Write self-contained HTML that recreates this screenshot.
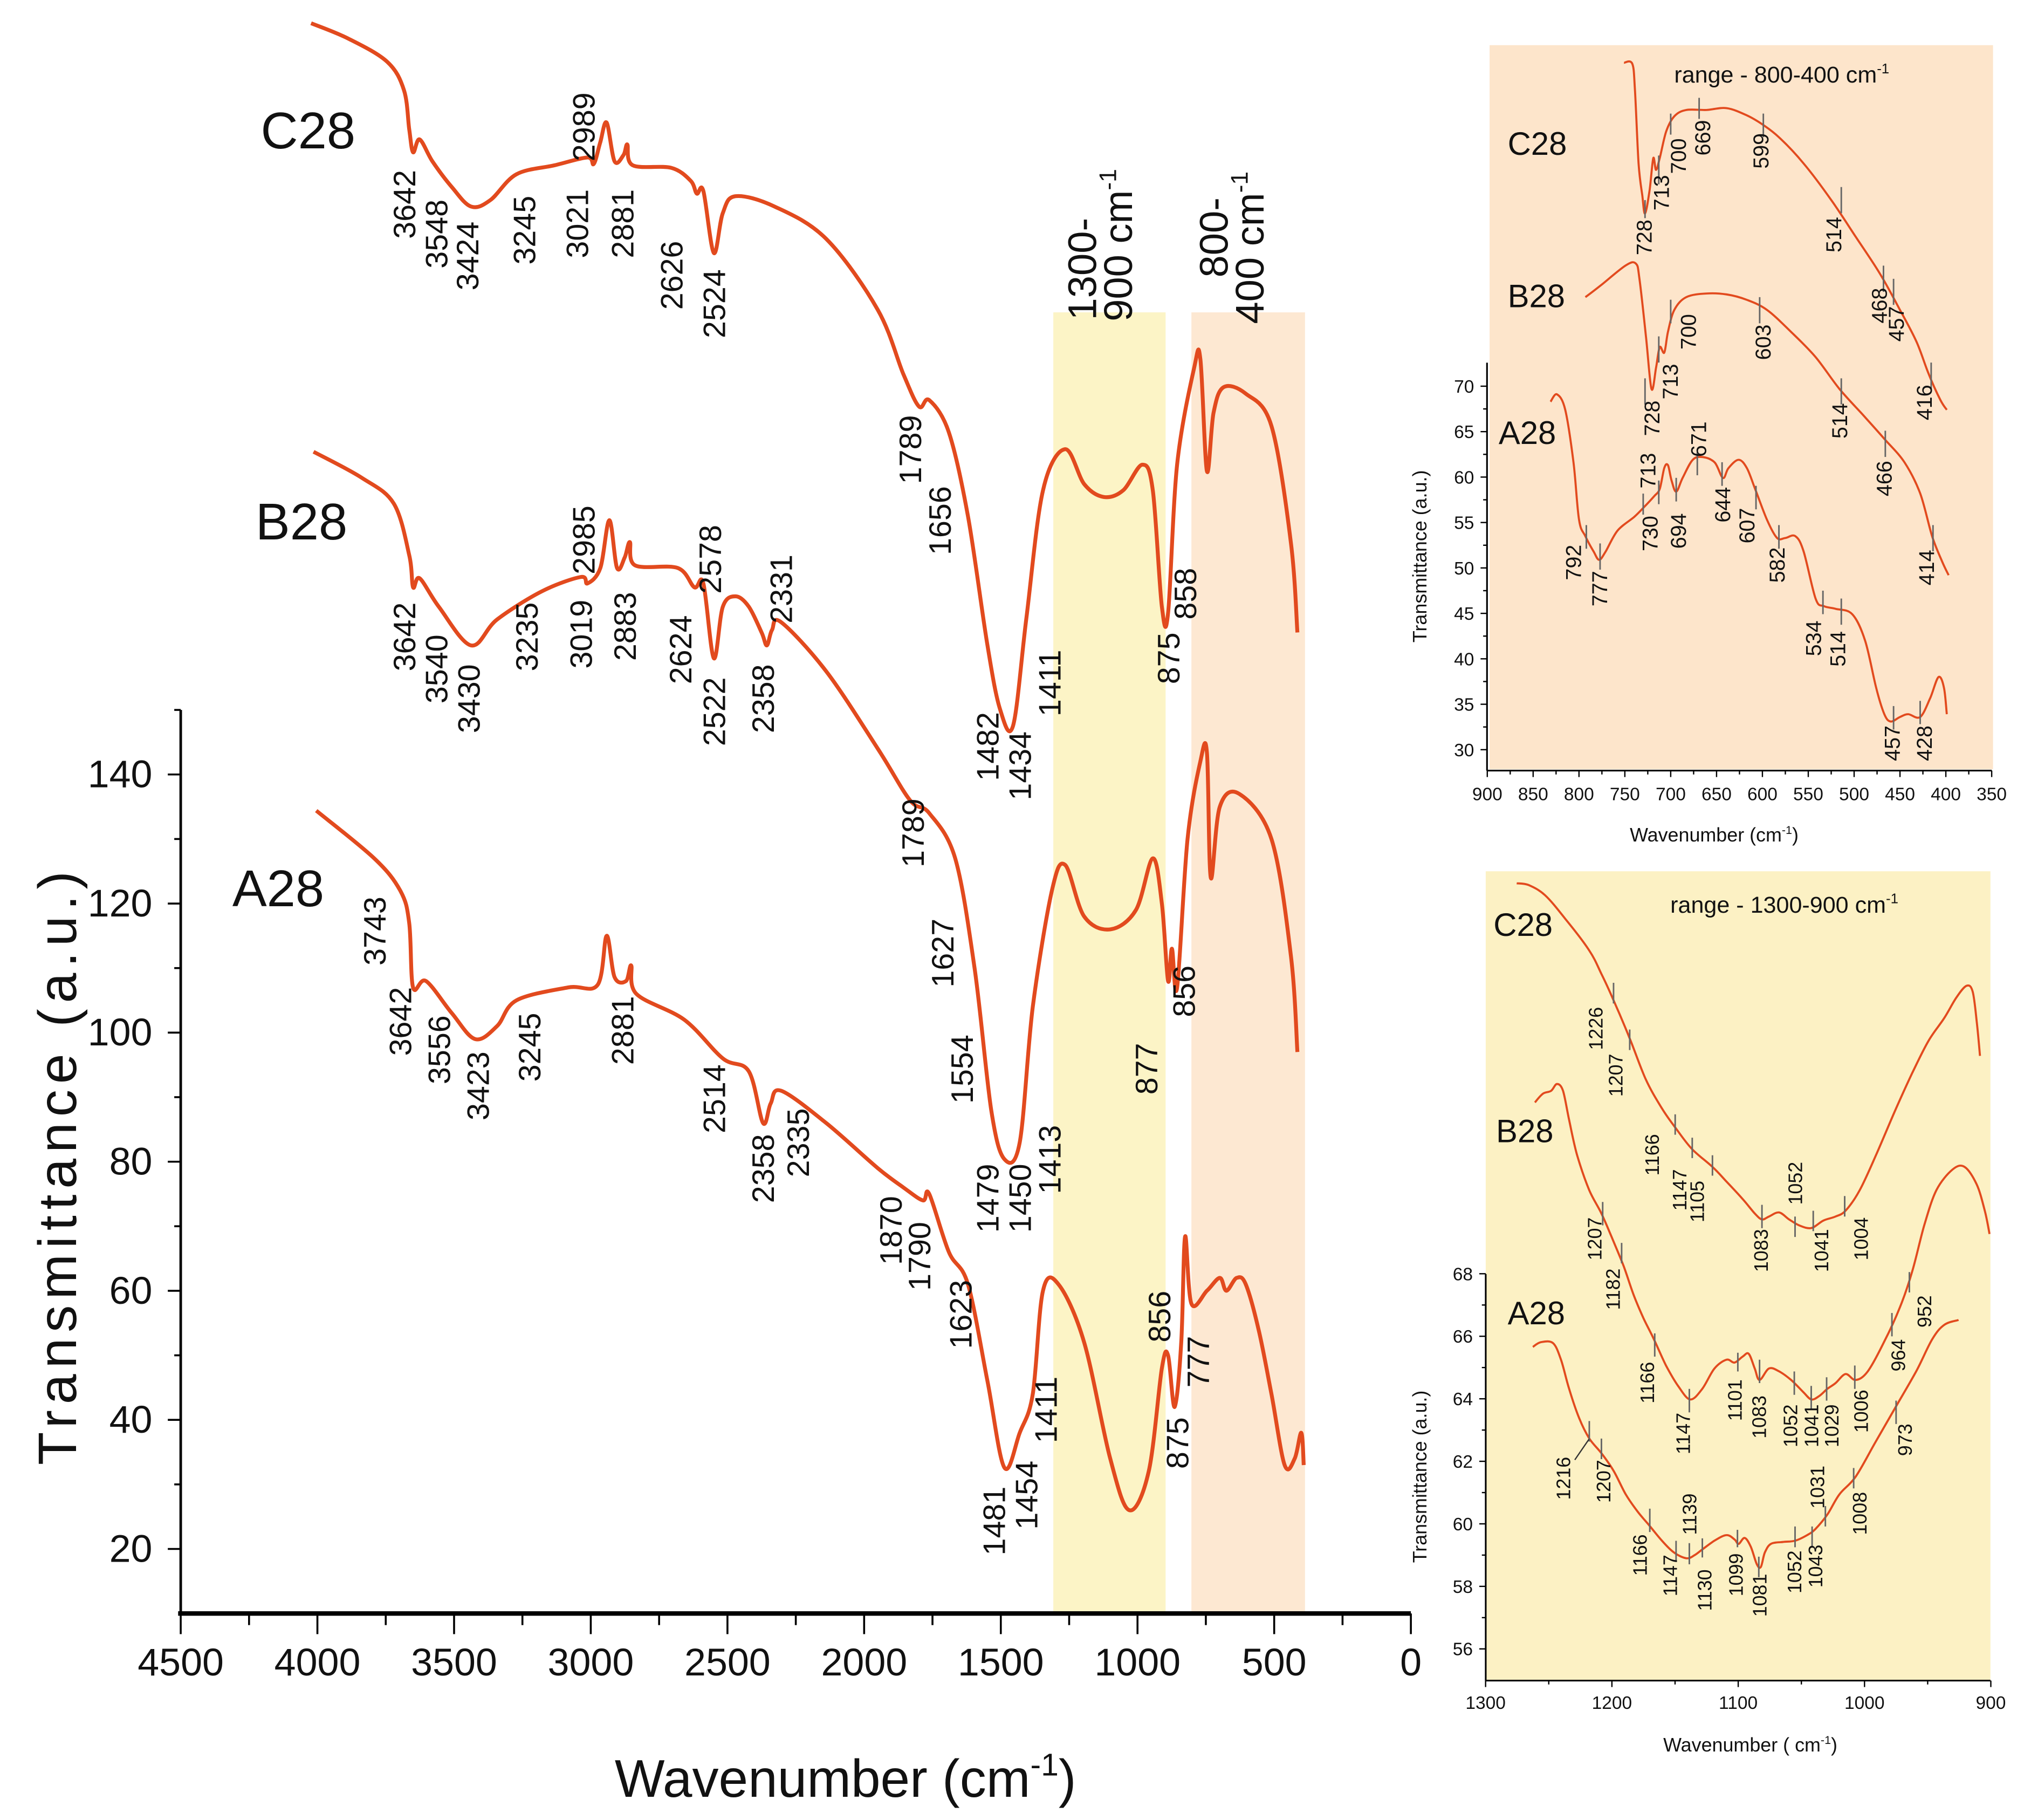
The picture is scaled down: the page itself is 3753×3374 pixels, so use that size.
<!DOCTYPE html>
<html><head><meta charset="utf-8"><style>
html,body{margin:0;padding:0;background:#fff;}
svg{display:block;font-family:"Liberation Sans",Arial,sans-serif;}
</style></head><body>
<svg id="chart" xmlns="http://www.w3.org/2000/svg" width="3753" height="3374" viewBox="0 0 1568 1410" preserveAspectRatio="none">
<rect x="0" y="0" width="1568" height="1410" fill="#fff"/>
<rect x="816" y="242" width="87" height="1008" fill="#fcf4c6"/>
<rect x="923" y="242" width="88" height="1008" fill="#fde8d2"/>
<rect x="1154" y="35" width="390" height="561" fill="#fde5cb"/>
<rect x="1151" y="675" width="391" height="627" fill="#fcf1c4"/>
</svg>
<script>
// ---------- main chart data ----------
const mainXTicks=[4500,4000,3500,3000,2500,2000,1500,1000,500,0];
const mainYTicks=[20,40,60,80,100,120,140];
const c28W=[4023,3886,3744,3683,3664,3650,3626,3579,3508,3438,3367,3272,3131,3012,2989,2965,2942,2913,2880,2866,2847,2706,2635,2612,2588,2550,2517,2470,2328,2139,1950,1856,1799,1762,1690,1620,1549,1502,1455,1407,1346,1265,1195,1124,1053,982,944,911,888,855,793,770,746,722,685,604,510,439,415];
const c28V=[256.4,254,250.4,246,240,236.4,238.4,235,231,228,229,233,234.4,235.6,234.6,238,241,235,236,237.6,234.4,234,232,230,230.4,220.8,227,229.6,228,223,212,202,197,198,193,180,160,150,147.6,164,184,190.4,185,183,184,188,184,166,165,188,203,204.4,187,196,200,199,194,176,162];
const b28W=[4014,3839,3721,3664,3650,3626,3556,3438,3343,3178,3036,3012,2965,2932,2904,2876,2857,2838,2682,2621,2588,2550,2517,2470,2422,2375,2356,2337,2304,2139,1950,1832,1762,1667,1596,1535,1487,1431,1383,1313,1265,1195,1100,1006,944,911,888,874,855,817,770,746,732,699,628,510,439,415];
const b28V=[190,186,182,174,169,170.4,166,160,164,168.4,170.6,169.6,172,179.4,172,173.6,176,172.4,172,169,169.6,158,166,167.6,166,162,160,162.4,163.6,156,144,136,134,127,110,88,80.4,83,104,122,126,118,116,119,127,120,108,113,107,130,142,143.4,124,135,137,130,112,97];
const a28W=[4004,3792,3697,3664,3650,3603,3508,3423,3343,3272,3083,2975,2942,2913,2871,2852,2833,2658,2517,2422,2370,2342,2304,2139,1950,1856,1785,1762,1690,1620,1549,1487,1431,1383,1346,1289,1195,1100,1030,959,911,888,864,840,826,803,746,699,675,637,604,557,510,462,425,401,392];
const a28V=[134.4,127,122,117,107,108,103,99,101,105,107,107.4,115,108.6,108,110.4,106,102,96,94,86,89,91,86,79,76,74,75,66,61,46,32.6,38,44,60,61,52,34,26,32,48,50,42,52,68.4,58,60,62,60,62,61,54,44,33,34,38,33];
const mainLabels=[["3642",313,185],["3548",338,208],["3424",362,225],["3245",406,205],["3021",447,200],["2989",452,125],["2881",482,200],["2626",520,240],["2524",553,262],["1789",705,375],["1656",728,430],["1482",765,605],["1434",790,620],["1411",813,555],["875",905,530],["858",918,480],
["3642",313,520],["3540",338,545],["3430",363,568],["3235",408,520],["3019",450,518],["2985",452,445],["2883",484,512],["2624",527,530],["2578",550,460],["2522",553,578],["2358",591,568],["2331",605,483],["1789",707,672],["1627",730,765],["1554",745,855],["1479",765,955],["1450",790,955],["1413",813,925],["877",888,848],["856",917,788],
["3743",290,748],["3642",310,818],["3556",340,840],["3423",370,868],["3245",410,838],["2881",482,825],["2514",553,878],["2358",591,932],["2335",618,912],["1870",690,980],["1790",712,1000],["1623",744,1045],["1481",770,1205],["1454",795,1185],["1411",810,1118],["856",898,1040],["875",912,1138],["777",928,1075]];

// ---------- inset 800-400 data ----------
const pXTicks=[900,850,800,750,700,650,600,550,500,450,400,350];
const pYTicks=[30,35,40,45,50,55,60,65,70];
const pC28W=[751,742,739,735,731,728,723,719,716,712,705,696,683,661,639,617,600,582,555,525,498,472,450,432,419,406,399];
const pC28V=[105.6,105.5,102.6,94.5,91,89,91.6,95.1,93.8,95.1,98,99.7,100.4,100.4,100.6,99.8,98.8,97.4,94.5,90.5,86.4,82.4,78.4,74.9,71.4,68.5,67.4];
const pB28W=[793,775,749,738,734,727,721,716,712,707,703,696,683,661,639,617,595,569,542,516,490,467,445,428,415,404,397];
const pB28V=[79.8,81.2,83.3,83.5,81.8,75.5,69.7,72,74.3,73.7,76,78.4,79.8,80.2,80.1,79.5,78.4,76,73.2,69.7,66.8,64.2,61.6,58.2,53.5,50.7,49.2];
const pA28W=[831,824,815,806,800,793,784,778,771,758,740,729,718,712,707,703,699,694,687,676,665,652,643,637,626,617,608,595,584,575,564,555,542,533,520,502,488,476,467,460,450,441,428,417,408,402,399];
const pA28V=[68.3,69.1,67.4,61.6,55.3,53.5,51.8,50.9,51.8,54.1,55.6,56.7,57.9,58.7,61,61.3,59.6,58.4,59.9,61.9,62.2,61.6,59.9,61,61.9,61,58.7,55.3,53.3,53.3,53.5,51.8,46.6,45.8,45.5,44.9,42,36.8,33.9,33.1,33.6,33.9,33.6,35.7,38,36.8,33.9];
const pMarks=[[728,155,169],[713,120.5,142.8],[700,88,104.3],[669,75.8,92.1],[599,88,106.3],[514,144.9,165.2],[468,205.8,226.1],[457,216,236.2],[416,280.9,301.2],
[728,293.1,313.4],[713,260.6,280.9],[700,232.2,250.5],[603,230.2,250.5],[514,293.1,313.4],[466,333.7,354],[414,406.8,427.1],
[792,406.8,425.1],[777,421,441.3],[730,382.4,398.7],[713,372.3,390.6],[694,370.2,388.5],[671,350,368.2],[644,358.1,376.4],[607,376.4,394.6],[582,406.8,425.1],[534,457.6,475.8],[514,463.7,484],[457,547,565.2],[428,543,561]];
const pLabels=[["728",1273.5,197.7],["713",1286.9,163.1],["700",1300,134.7],["669",1318.8,120.5],["599",1364.1,130.7],["514",1420.4,195.6],["468",1455.7,250.5],["457",1468.9,264.7],["416",1490.7,325.6],
["728",1279.7,337.8],["713",1293.8,309.4],["700",1307.9,270.8],["603",1365.7,278.9],["514",1425.1,339.8],["466",1459.5,384.5],["414",1492.3,453.5],
["792",1218.8,449.5],["777",1239.1,469.8],["730",1278.2,427.1],["713",1276.6,378.4],["694",1300,425.1],["671",1315.7,354],["644",1334.4,404.8],["607",1353.2,421],["582",1376.6,451.5],["534",1404.8,508.3],["514",1423.5,516.5],["457",1465.7,589.6],["428",1490.7,589.6]];

// ---------- inset 1300-900 data ----------
const yXTicks=[1300,1200,1100,1000,900];
const yYTicks=[56,58,60,62,64,66,68];
const yC28W=[1275.4,1265.8,1253,1237,1217.9,1208.3,1198.7,1185.9,1173.2,1160.4,1149.2,1136.4,1120.4,1109.3,1096.5,1086.9,1081.2,1075.7,1067.7,1059.7,1051.8,1042.2,1032.6,1023,1015,1003.8,991,975,962.3,949.5,936.7,927.2,919.2,914.4,911.2,908.6];
const yC28V=[80.49,80.43,80.11,79.36,78.34,77.59,76.75,75.53,74.22,73.29,72.64,71.98,71.42,70.95,70.39,69.93,69.74,69.83,69.96,69.74,69.55,69.46,69.7,69.83,70.02,70.67,71.79,73.29,74.41,75.44,76.19,76.84,77.21,77.03,76.09,74.97];
const yB28W=[1261,1254.6,1248.2,1243.5,1238.7,1233.9,1227.5,1217.9,1208.3,1200.3,1190.7,1182.7,1174.8,1166.8,1157.2,1147.6,1138,1128.4,1118.8,1109.3,1102.9,1096.5,1091.7,1086.9,1083.1,1075.7,1067.7,1058.1,1048.6,1042.2,1035.8,1029.4,1023,1015,1007,997.4,984.6,971.9,962.3,952.7,943.1,930.4,920.8,911.2,904.8,901];
const yB28V=[73.48,73.76,73.85,74.07,73.85,72.92,71.79,70.67,69.93,69.18,68.24,67.31,66.56,65.91,65.07,64.41,63.98,64.32,64.97,65.25,65.16,65.35,65.44,64.97,64.6,64.97,64.88,64.6,64.22,63.98,64.09,64.32,64.5,64.79,64.6,64.88,65.81,66.93,68.06,69.55,70.67,71.33,71.42,70.86,70.02,69.27];
const yA28W=[1262.6,1256.2,1246.6,1240.3,1233.9,1225.9,1217.9,1208.3,1198.7,1189.1,1179.6,1170,1160.4,1150.8,1141.2,1134.8,1128.4,1118.8,1109.3,1102.9,1099.7,1094.9,1090.1,1085.3,1082.1,1078.9,1074.1,1064.5,1054.9,1045.4,1039,1029.4,1019.8,1007,991,975,959.1,946.3,936.7,925.5];
const yA28V=[65.66,65.81,65.78,65.25,64.32,63.38,62.73,62.26,61.7,60.95,60.39,59.93,59.46,59.08,58.9,58.99,59.18,59.46,59.64,59.5,59.36,59.55,59.27,58.71,58.62,59.08,59.36,59.42,59.46,59.64,59.83,60.3,60.95,61.51,62.64,63.76,64.88,65.91,66.37,66.52];
const yMarks=[[1198.7,761.4,777.4],[1185.9,797.6,813.5],[1149.9,863.3,879.1],[1136.4,881.4,897.2],[1120.4,895,910.8],[1081.2,933.4,951.5],[1055,942.5,958.3],[1040.6,938,953.8],[1015.7,926.6,942.5],
[1207.3,931.2,949.3],[1192.3,962.9,978.7],[1166.1,1033,1051],[1138.7,1076,1094.2],[1100.3,1048,1062.5],[1083.1,1053.4,1071.5],[1055.6,1062.5,1080.6],[1042.2,1073.7,1091.9],[1030,1067,1085.1],[1007.7,1057.9,1076],[978.3,1017.2,1035.3],[964.5,985.5,1001.3],
[1217.9,1100.9,1116.8],[1208.3,1114.5,1130.4],[1170,1168.8,1186.9],[1149.2,1193.7,1209.4],[1138.7,1195.5,1211.9],[1128.4,1191.8,1206.6],[1100.6,1185.2,1198.7],[1083.7,1206,1221.9],[1055,1182.6,1198.7],[1041.5,1182.6,1198.7],[1031,1166.8,1182.6],[1008.6,1137.3,1153.1],[975,1085.1,1103.2]];
const yLabels=[["1226",1236,813.5],["1207",1251.6,849.7],["1166",1279.7,910.8],["1147",1301,938],["1105",1314.7,947],["1052",1390.7,933.4],["1083",1364.1,985.5],["1041",1411,985.5],["1004",1441.7,976.4],
["1207",1235.3,976.4],["1182",1249.4,1014.9],["1166",1276,1087.3],["1147",1303.8,1126.7],["1101",1343.8,1100.9],["1083",1362.6,1114.5],["1052",1386.9,1121.3],["1041",1403.2,1121.3],["1029",1418.8,1121.3],["1006",1441.7,1110],["964",1470.4,1062.5],["952",1490.7,1028.5],
["1216",1211,1162],["1207",1242.2,1164.3],["1166",1270.3,1220.9],["1147",1293.8,1236.7],["1139",1308.8,1189.2],["1130",1320.4,1248.1],["1099",1344.7,1236.7],["1081",1363.2,1252.6],["1052",1390.1,1234.5],["1043",1406.3,1230],["1031",1407.9,1168.8],["1008",1440.7,1189.2],["973",1475.7,1128]];

// ---------- axis functions ----------
function mx(w){return 140+(4500-w)*0.21178;}
function my(v){return 1200-(v-20)*5;}
function px(w){return 1152.2+(900-w)*0.7105;}
function py(v){return 299.2+(70-v)*7.04;}
function yx(w){return 1150.9+(1300-w)*0.9785;}
function yy(v){return 986.8+(68-v)*24.22;}

const NS='http://www.w3.org/2000/svg';
const svg=document.getElementById('chart');
function mk(tag){const e=document.createElementNS(NS,tag);svg.appendChild(e);return e;}
function ln(x1,y1,x2,y2,stroke,w,name){
  const e=mk('line');
  e.setAttribute('x1',x1);e.setAttribute('y1',y1);e.setAttribute('x2',x2);e.setAttribute('y2',y2);
  e.setAttribute('stroke',stroke);e.setAttribute('stroke-width',w);
  
  
  return e;}
function txt(s,x,y,fs,anchor,name){
  const t=mk('text');
  t.setAttribute('x',x);t.setAttribute('y',y);t.setAttribute('font-size',fs);
  t.setAttribute('text-anchor',anchor||'start');t.setAttribute('fill','#111');
  t.textContent=s;
  
  
  return t;}
function vtxt(s,cx,by,fs,name){
  const bx=cx+fs*0.36;
  const t=txt(s,bx,by,fs,'start',name);
  t.setAttribute('transform','rotate(-90 '+bx+' '+by+')');
  return t;}
function series(W,V,fx,fy,w,name){
  const P=W.map((wv,i)=>[fx(wv),fy(V[i])]);
  let d='M'+P[0][0].toFixed(1)+','+P[0][1].toFixed(1);
  for(let i=0;i<P.length-1;i++){
    const p0=P[Math.max(0,i-1)],p1=P[i],p2=P[i+1],p3=P[Math.min(P.length-1,i+2)];
    const c1x=p1[0]+(p2[0]-p0[0])/6,c1y=p1[1]+(p2[1]-p0[1])/6;
    const c2x=p2[0]-(p3[0]-p1[0])/6,c2y=p2[1]-(p3[1]-p1[1])/6;
    d+=' C'+c1x.toFixed(1)+','+c1y.toFixed(1)+' '+c2x.toFixed(1)+','+c2y.toFixed(1)+' '+p2[0].toFixed(1)+','+p2[1].toFixed(1);
  }
  const p=mk('path');
  p.setAttribute('d',d);
  p.setAttribute('fill','none');p.setAttribute('stroke','#e24a1e');p.setAttribute('stroke-width',w);
  p.setAttribute('stroke-linejoin','round');
  
  
  return p;}
function supLabel(base,x,y,fs,anchor,name){
  const t=txt(base,x,y,fs,anchor,name);
  const s=document.createElementNS(NS,'tspan');
  s.setAttribute('dy',-fs*0.4);s.setAttribute('font-size',fs*0.6);s.textContent='-1';
  t.appendChild(s);
  const c=document.createElementNS(NS,'tspan');
  c.setAttribute('dy',fs*0.4);c.textContent=base.endsWith('cm')&&anchor==='middle'?')':'';
  t.appendChild(c);
  return t;}

// ---------- main axes ----------
ln(140,550,140,1250,'#000',2,'main-y-axis');
ln(138,1250,1093,1250,'#000',3.5,'main-x-axis');
mainXTicks.forEach(w=>{
  ln(mx(w),1250,mx(w),1266,'#000',1.5,'main-x-tick');
  txt(String(w),mx(w),1298,30,'middle','main-x-tick-label');});
for(let i=0;i<mainXTicks.length-1;i++){const m=(mainXTicks[i]+mainXTicks[i+1])/2;ln(mx(m),1250,mx(m),1259,'#000',1.5,'main-x-minor-tick');}
mainYTicks.forEach(v=>{
  ln(130,my(v),140,my(v),'#000',1.5,'main-y-tick');
  txt(String(v),118,my(v)+10,30,'end','main-y-tick-label');});
[30,50,70,90,110,130,150].forEach(v=>ln(135,my(v),140,my(v),'#000',1.5,'main-y-minor-tick'));
const yt=txt('Transmittance (a.u.)',45,905,42,'middle','main-y-axis-title');
yt.setAttribute('transform','rotate(-90 45 905) translate(0 14)');
yt.setAttribute('textLength','460');
supLabel('Wavenumber (cm',655,1392,41,'middle','main-x-axis-title');

series(c28W,c28V,mx,my,3,'main-series-c28');
series(b28W,b28V,mx,my,3,'main-series-b28');
series(a28W,a28V,mx,my,3,'main-series-a28');
mainLabels.forEach(l=>vtxt(l[0],l[1],l[2],24,'main-peak-label'));
txt('C28',202,115,40,'start','main-label-c28');
txt('B28',198,418,40,'start','main-label-b28');
txt('A28',180,702,40,'start','main-label-a28');
vtxt('1300-',838,248,31,'range-label-1300-900');
supLabel('900 cm',866,238,31,'start','range-label-1300-900-unit').setAttribute('transform','rotate(-90 877 238)');
vtxt('800-',940,215,31,'range-label-800-400');
supLabel('400 cm',968,240,31,'start','range-label-800-400-unit').setAttribute('transform','rotate(-90 979 240)');

// ---------- inset 800-400 ----------
ln(1152,281,1152,597,'#000',1.3,'inset1-y-axis');
ln(1152,597,1543,597,'#000',1.3,'inset1-x-axis');
pYTicks.forEach(v=>{ln(1147,py(v),1152,py(v),'#000',1,'inset1-y-tick');txt(String(v),1142,py(v)+5,14,'end','inset1-y-tick-label');});
pYTicks.slice(0,-1).forEach(v=>ln(1149,py(v+2.5),1152,py(v+2.5),'#000',1,'inset1-y-minor-tick'));
pXTicks.forEach(w=>{ln(px(w),597,px(w),602,'#000',1,'inset1-x-tick');txt(String(w),px(w),620,14,'middle','inset1-x-tick-label');});
pXTicks.slice(0,-1).forEach(w=>ln(px(w-25),597,px(w-25),600,'#000',1,'inset1-x-minor-tick'));
supLabel('Wavenumber (cm',1328,652,15,'middle','inset1-x-axis-title');
const t1=txt('Transmittance (a.u.)',1100,431,15,'middle','inset1-y-axis-title');t1.setAttribute('transform','rotate(-90 1100 431) translate(0 5)');
supLabel('range - 800-400 cm',1297,64,18,'start','inset1-title');
series(pC28W,pC28V,px,py,1.6,'inset1-series-c28');
series(pB28W,pB28V,px,py,1.6,'inset1-series-b28');
series(pA28W,pA28V,px,py,1.6,'inset1-series-a28');
pMarks.forEach(m=>ln(px(m[0]),m[1],px(m[0]),m[2],'#666',1.2,'inset1-peak-marker'));
pLabels.forEach(l=>vtxt(l[0],l[1],l[2],16.5,'inset1-peak-label'));
txt('C28',1168,120,25,'start','inset1-label-c28');
txt('B28',1168,238,25,'start','inset1-label-b28');
txt('A28',1161,344,25,'start','inset1-label-a28');

// ---------- inset 1300-900 ----------
ln(1151,987,1151,1302,'#000',1.3,'inset2-y-axis');
ln(1151,1302,1542,1302,'#000',1.3,'inset2-x-axis');
yYTicks.forEach(v=>{ln(1146,yy(v),1151,yy(v),'#000',1,'inset2-y-tick');txt(String(v),1141,yy(v)+5,14,'end','inset2-y-tick-label');});
yYTicks.slice(0,-1).forEach(v=>ln(1148,yy(v+1),1151,yy(v+1),'#000',1,'inset2-y-minor-tick'));
yXTicks.forEach(w=>{ln(yx(w),1302,yx(w),1307,'#000',1,'inset2-x-tick');txt(String(w),yx(w),1324,14,'middle','inset2-x-tick-label');});
yXTicks.slice(0,-1).forEach(w=>ln(yx(w-50),1302,yx(w-50),1305,'#000',1,'inset2-x-minor-tick'));
supLabel('Wavenumber (  cm',1356,1357,15,'middle','inset2-x-axis-title');
const t2=txt('Transmittance (a.u.)',1100,1144,15,'middle','inset2-y-axis-title');t2.setAttribute('transform','rotate(-90 1100 1144) translate(0 5)');
supLabel('range - 1300-900 cm',1294,707,18,'start','inset2-title');
series(yC28W,yC28V,yx,yy,1.6,'inset2-series-c28');
series(yB28W,yB28V,yx,yy,1.6,'inset2-series-b28');
series(yA28W,yA28V,yx,yy,1.6,'inset2-series-a28');
yMarks.forEach(m=>ln(yx(m[0]),m[1],yx(m[0]),m[2],'#666',1.2,'inset2-peak-marker'));
yLabels.forEach(l=>vtxt(l[0],l[1],l[2],15,'inset2-peak-label'));
ln(1220,1131,1231,1115,'#333',1,'inset2-arrow-1216');
txt('C28',1157,725,25,'start','inset2-label-c28');
txt('B28',1159,885,25,'start','inset2-label-b28');
txt('A28',1168,1026,25,'start','inset2-label-a28');
</script>
</body></html>
